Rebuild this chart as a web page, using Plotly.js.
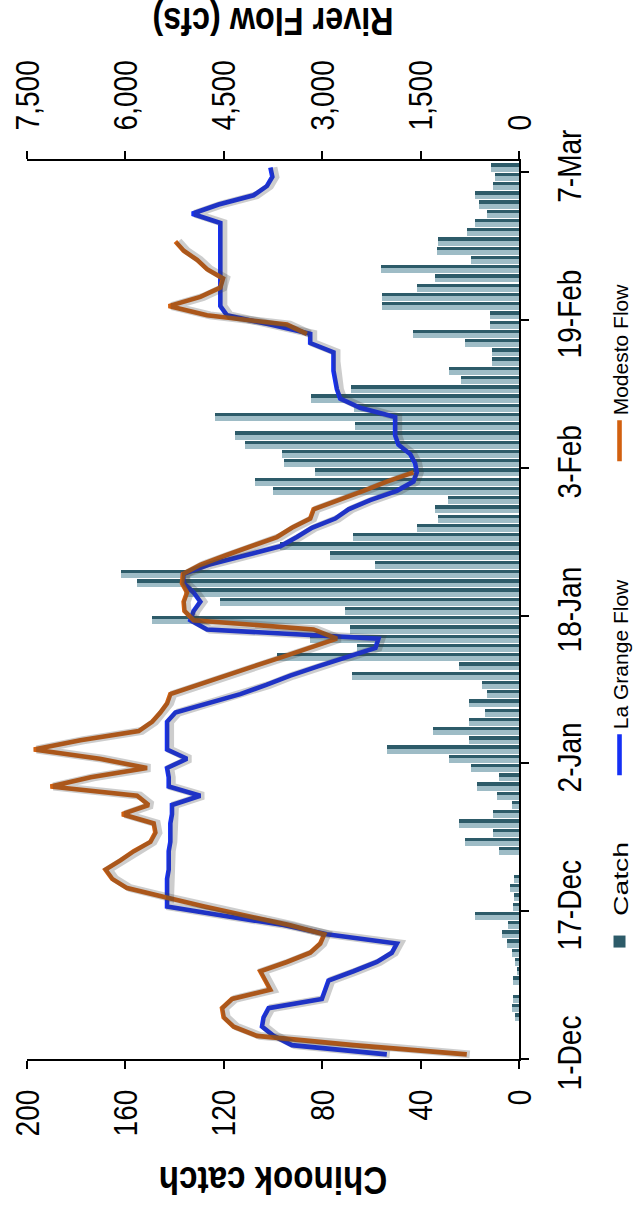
<!DOCTYPE html>
<html><head><meta charset="utf-8">
<script src="https://cdn.plot.ly/plotly-3.0.1.min.js"></script>
<style>
html,body{margin:0;padding:0;background:#fff;overflow:hidden;}
#stage{position:absolute;left:0;top:0;width:638px;height:1211px;overflow:hidden;background:#fff;}
#chart{position:absolute;left:0;top:0;width:1211px;height:638px;transform-origin:0 0;transform:translate(0px,1211px) rotate(-90deg);}
</style></head><body>
<div id="stage"><div id="chart"></div></div>
<script>
// ---- data (daily, starting 1-Dec) ----
const startDate = '2012-12-01';
const catchVals = [0,0,0,0,1.6,3,2.3,0,2.3,1,1.6,3,5,7,4.3,18,2.5,2,3.5,2,
  0,0,8,22,10.4,24.4,10.4,3,9,17,8.2,19.7,28.5,53.6,20.4,35,20.4,13.8,20.4,13,
  15.2,68,24.5,98.4,66,85,68.6,149,70.7,121.4,136,155.3,161.8,58.5,77,97.3,67.3,41.6,33,34,
  29,100,107.2,82.8,95.7,96.4,111.3,115.3,66.6,123.5,67,84.6,68.2,23.5,28.6,11,11,22,43,11.8,
  11.8,55.8,55.8,41.5,34,56,19.7,33.4,32.8,21,17.9,13.1,16.1,17.9,10.4,9.7,11.5];
const laGrangeFlow = [2015,3462,3741,3918,3894,3817,3005,2954,2904,2523,2167,1939,1862,2929,3589,4502,5365,5365,5365,5365,
  5340,5340,5340,5315,5315,5315,5290,5290,4858,5340,5340,5365,5061,5365,5365,5365,5365,5238,4756,4249,
  3853,3487,3066,2650,2188,2142,4756,5010,4960,4858,4960,5112,5122,4731,4198,3640,3386,3157,2802,2599,
  2269,1862,1609,1558,1584,1660,1838,1888,1888,1888,2421,2726,2776,2802,2828,2828,2828,3183,3183,3792,
  4451,4553,4553,4553,4553,4553,4553,4553,4553,4553,4553,4984,4579,4046,3842,3760,3790];
const modestoFlow = [796,2523,3994,4350,4502,4527,4375,3792,3868,3944,3538,3183,3030,2969,3502,4162,4797,5391,5974,6202,
  6304,6076,5873,5619,5543,5569,6050,5645,5822,7142,6528,5670,6391,7396,6685,5797,5593,5467,5365,5315,
  4908,4477,4046,3614,3183,2776,3132,4960,5100,5112,5061,5137,5122,4858,4477,4096,3690,3462,3183,3132,
  2726,2371,2015,1609,null,null,null,null,null,null,null,null,null,null,null,null,null,null,3233,3538,
  4756,5340,4858,4553,4512,4756,4908,5112,5238,null,null,null,null,null,null,null,null];
const seriesNames = ['Catch','La Grange Flow','Modesto Flow'];
const catchTitle = 'Chinook catch';
const flowTitle = 'River Flow (cfs)';

// daily date sequence for the categories
const dates = [];
(function(){
  const d0 = new Date(startDate + 'T00:00:00Z');
  for (let i = 0; i < catchVals.length; i++) {
    const d = new Date(d0.getTime() + i*86400000);
    dates.push(d.toISOString().slice(0,10));
  }
})();

const DAY = 86400000;
const FONT = '"Liberation Sans",Arial,Helvetica,sans-serif';
const SHIFT = 46; // shadow offset (cfs) ~3px

const traces = [
  {type:'bar', x:dates, y:catchVals, name:seriesNames[0], legend:'legend',
   xperiod:DAY, xperiodalignment:'middle', width:0.88*DAY, offset:-0.44*DAY,
   marker:{color:'#2d5b69', line:{width:0}}, hoverinfo:'skip'},
  {type:'bar', x:dates, y:catchVals, showlegend:false,
   xperiod:DAY, xperiodalignment:'middle', width:0.52*DAY, offset:-0.44*DAY,
   marker:{color:'#9ebcc6', line:{width:0}}, hoverinfo:'skip'},
  {type:'scatter', mode:'lines', x:dates, y:laGrangeFlow, yaxis:'y3', showlegend:false,
   xperiod:DAY, xperiodalignment:'middle', line:{color:'rgba(60,60,60,0.26)', width:8}, hoverinfo:'skip'},
  {type:'scatter', mode:'lines', x:dates, y:modestoFlow, yaxis:'y3', showlegend:false,
   xperiod:DAY, xperiodalignment:'middle', line:{color:'rgba(60,60,60,0.26)', width:8}, hoverinfo:'skip'},
  {type:'scatter', mode:'lines', x:dates, y:laGrangeFlow, yaxis:'y2', name:seriesNames[1], legend:'legend2',
   xperiod:DAY, xperiodalignment:'middle', line:{color:'#1530f5', width:4.6}},
  {type:'scatter', mode:'lines', x:dates, y:modestoFlow, yaxis:'y2', name:seriesNames[2], legend:'legend3',
   xperiod:DAY, xperiodalignment:'middle', connectgaps:false, line:{color:'#d2600f', width:4.6}}
];

const axCommon = {ticks:'outside', ticklen:8, tickwidth:2, tickcolor:'#000', showline:true, linewidth:2,
  linecolor:'#000', showgrid:false, zeroline:false, tickfont:{family:FONT, size:33, color:'#000'}};
const legCommon = {orientation:'h', xanchor:'left', yanchor:'middle', y:-0.205, bgcolor:'rgba(0,0,0,0)',
  itemwidth:41, font:{family:FONT, size:21, color:'#000'}};

const layout = {
  width:1211, height:638,
  margin:{l:152, r:160.5, t:26.7, b:119, pad:0, autoexpand:false},
  paper_bgcolor:'#ffffff', plot_bgcolor:'rgba(0,0,0,0)',
  barmode:'overlay', bargap:0,
  font:{family:FONT, size:33, color:'#000'},
  xaxis:Object.assign({}, axCommon, {type:'date', range:['2012-12-01','2013-03-08 05:00'],
    tick0:'2012-12-01', dtick:16*DAY, tickformat:'%-d-%b', ticklabelstandoff:12, ticklabelshift:6}),
  yaxis:Object.assign({}, axCommon, {range:[0,200], tick0:0, dtick:40, ticklabelstandoff:14,
    title:{text:catchTitle, standoff:10, font:{family:FONT, size:39, weight:'bold', color:'#000'}}}),
  yaxis2:Object.assign({}, axCommon, {overlaying:'y', side:'right', range:[0,7500], tick0:0, dtick:1500,
    tickformat:',', ticklabelstandoff:14,
    title:{text:flowTitle, standoff:17, font:{family:FONT, size:39, weight:'bold', color:'#000'}}}),
  yaxis3:{overlaying:'y', range:[SHIFT, 7500+SHIFT], visible:false, fixedrange:true},
  showlegend:true,
  legend:Object.assign({}, legCommon, {x:0.1024}),
  legend2:Object.assign({}, legCommon, {x:0.3105}),
  legend3:Object.assign({}, legCommon, {x:0.660})
};

// reference text lengths of the legend labels (px)
const legendTextLen = {'Catch':74, 'La Grange Flow':200, 'Modesto Flow':175};

const gd = document.getElementById('chart');
Plotly.newPlot(gd, traces, layout, {displayModeBar:false, staticPlot:true}).then(function(){
  // condense glyphs to match the reference's text proportions
  function fit(sel, f){
    gd.querySelectorAll(sel).forEach(function(t){
      const L = t.getComputedTextLength();
      if (L > 0) {
        t.setAttribute('textLength', (L*f).toFixed(2));
        t.setAttribute('lengthAdjust', 'spacingAndGlyphs');
      }
    });
  }
  fit('.xtick text', 0.85);
  fit('.ytick text', 0.85);
  fit('.y2tick text', 0.85);
  fit('text.ytitle', 0.85);
  fit('text.y2title', 0.83);
  gd.querySelectorAll('text.legendtext').forEach(function(t){
    const target = legendTextLen[t.textContent.trim()];
    if (target) {
      t.setAttribute('textLength', target);
      t.setAttribute('lengthAdjust', 'spacingAndGlyphs');
    }
  });
  // let the widened legend labels show in full
  gd.querySelectorAll('.legend [clip-path]').forEach(function(el){ el.removeAttribute('clip-path'); });
});
</script></body></html>
